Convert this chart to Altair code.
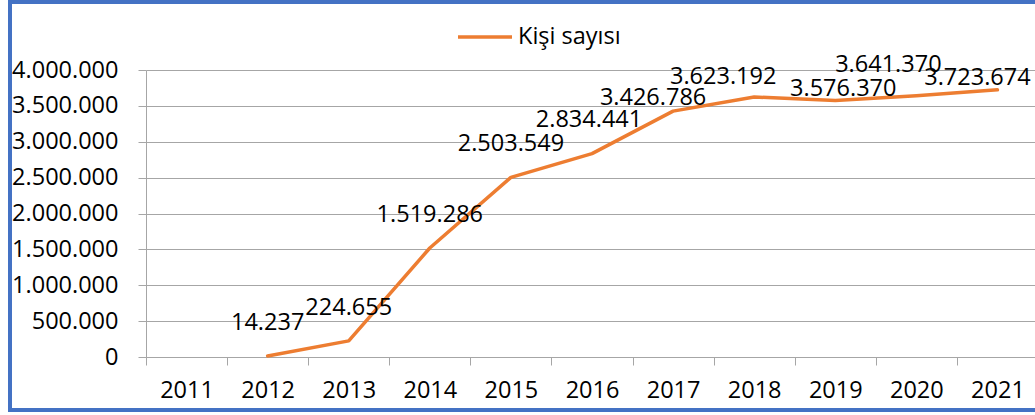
import altair as alt
import pandas as pd

# ---- data ----
years = ["2011", "2012", "2013", "2014", "2015", "2016", "2017", "2018", "2019", "2020", "2021"]
values = [None, 14237, 224655, 1519286, 2503549, 2834441, 3426786, 3623192, 3576370, 3641370, 3723674]
y_ticks = [0, 500000, 1000000, 1500000, 2000000, 2500000, 3000000, 3500000, 4000000]
series_name = "Kişi sayısı"

# ---- styling ----
FONT = "Open Sans"
FS = 23.5
GRID = "#a6a6a6"
ORANGE = "#ED7D31"
FRAME = "#4472C4"
W, H = 889, 287
# manual label nudges (dx, dy) as in the reference; others sit straight above the point
DEFAULT_NUDGE = (0, -33)
LABEL_NUDGE = {"2016": (-3, -34), "2017": (-20, -13), "2018": (-31, -20), "2019": (8, -11),
               "2020": (-28, -31), "2021": (-20, -12)}


def fmt(v):
    return "" if v is None else f"{v:,}".replace(",", ".")


df = pd.DataFrame({
    "year": years,
    "value": values,
    "label": [fmt(v) for v in values],
    "series": series_name,
})

x_enc = alt.X(
    "year:O",
    bandPosition=0.5,
    scale=alt.Scale(type="band", domain=years, paddingInner=0, paddingOuter=0, range=[0, 892]),
    axis=alt.Axis(title=None, labelAngle=0, tickBand="extent", grid=False,
                  domainColor=GRID, tickColor=GRID, tickSize=8, labelPadding=13,
                  labelFontSize=FS, labelFont=FONT, labelColor="#000"),
)
y_enc = alt.Y(
    "value:Q",
    scale=alt.Scale(domain=[0, 4000000], nice=False, zero=True),
    axis=alt.Axis(title=None, values=y_ticks, grid=True, gridColor=GRID, domainColor=GRID,
                  tickColor=GRID, tickSize=8, labelPadding=20, labelFontSize=FS,
                  labelFont=FONT, labelColor="#000",
                  labelExpr="replace(format(datum.value, ','), regexp(',', 'g'), '.')"),
)

base = alt.Chart(df)

line = base.mark_line(strokeWidth=3.5, strokeJoin="round", strokeCap="round").encode(
    x=x_enc,
    y=y_enc,
    color=alt.Color(
        "series:N",
        scale=alt.Scale(range=[ORANGE]),
        legend=alt.Legend(title=None, orient="none", legendX=310, legendY=-62,
                          symbolType="stroke", symbolSize=2916, symbolStrokeWidth=3.5,
                          labelFontSize=FS, labelFont=FONT, labelColor="#000",
                          labelOffset=4, padding=0),
    ),
)

label_layers = []
for yr, v in zip(years, values):
    if v is None:
        continue
    dx, dy = LABEL_NUDGE.get(yr, DEFAULT_NUDGE)
    label_layers.append(
        base.transform_filter(alt.datum.year == yr)
        .mark_text(font=FONT, fontSize=FS, color="#000", baseline="middle", align="center",
                   dx=dx, dy=dy)
        .encode(x=x_enc, y=y_enc, text="label:N")
    )

frame = alt.Chart(pd.DataFrame({"k": [0]})).mark_rect(
    fillOpacity=0, stroke=FRAME, strokeWidth=4
).encode(
    x=alt.value(-136), x2=alt.value(910), y=alt.value(-68), y2=alt.value(340)
)

chart = alt.layer(line, *label_layers, frame).properties(
    width=W, height=H,
    padding={"left": 146, "top": 70, "right": 0, "bottom": 58},
    autosize=alt.AutoSizeParams(type="none"),
    background="white",
).configure_view(strokeWidth=0)

chart.save("out.html", embed_options={"renderer": "svg", "actions": False})
